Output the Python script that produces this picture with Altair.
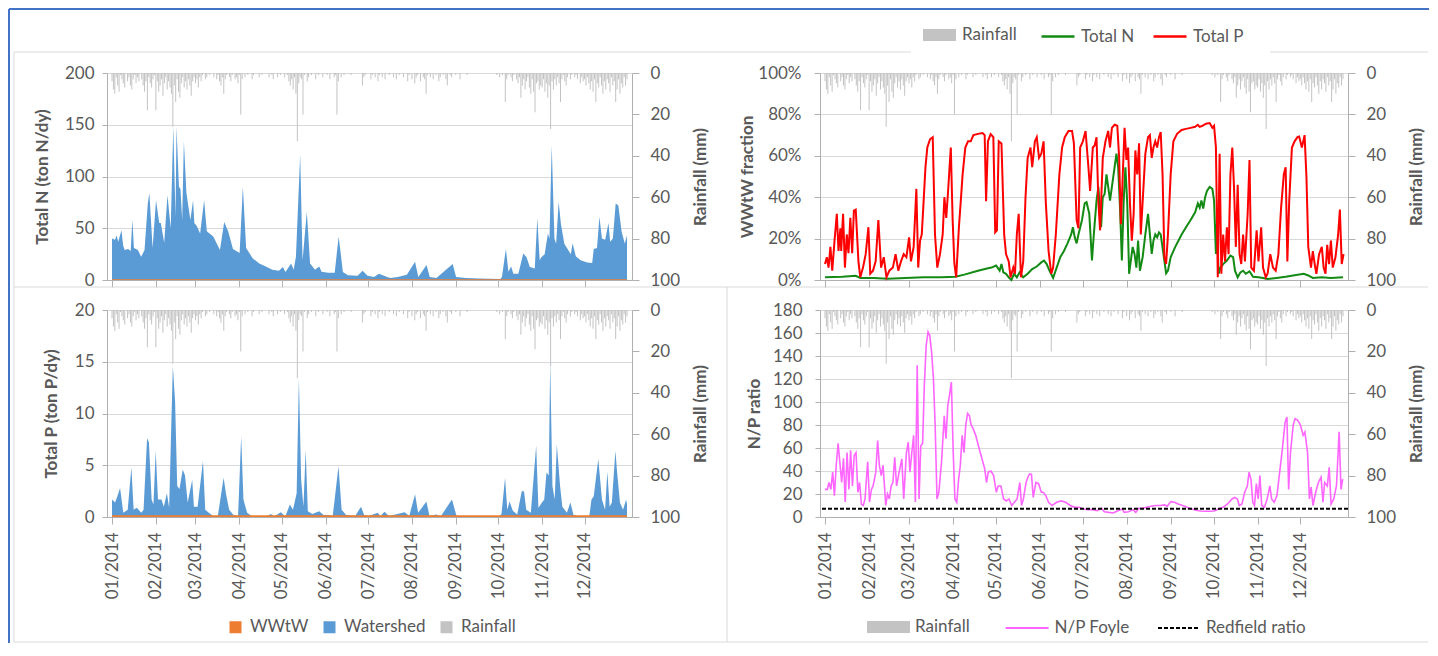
import altair as alt
import pandas as pd

# ---------------- data ----------------
rain_jan = [4, 8, 10, 2, 6, 9, 1, 3, 5, 7, 0, 4, 2, 6, 8, 3, 1, 5, 2, 4, 0, 3, 6, 9, 4, 18, 2, 5, 7, 3, 1]
rain_feb = [18, 4, 9, 6, 3, 11, 5, 2, 8, 4, 7, 10, 26, 6, 14, 3, 9, 12, 5, 2, 7, 4, 8, 3, 6, 11, 4, 2]
rain_mar = [5, 3, 7, 2, 4, 1, 0, 3, 2, 0, 1, 0, 0, 2, 0, 3, 1, 4, 6, 2, 10, 3, 1, 0, 2, 4, 1, 0, 3, 2, 5]
rain_apr = [1, 20, 3, 0, 2, 0, 1, 0, 0, 3, 1, 0, 0, 0, 2, 0, 1, 0, 0, 0, 0, 2, 0, 1, 3, 0, 0, 2, 0, 1]
rain_may = [0, 0, 2, 0, 1, 4, 6, 3, 8, 2, 10, 33, 5, 2, 3, 20, 1, 0, 4, 2, 0, 1, 0, 0, 3, 0, 1, 0, 0, 2, 0]
rain_jun = [0, 1, 0, 3, 0, 0, 2, 1, 20, 4, 0, 2, 0, 1, 0, 0, 0, 0, 1, 0, 0, 0, 0, 0, 0, 0, 6, 2, 1, 0]
rain_jul = [0, 0, 3, 1, 0, 2, 0, 4, 1, 0, 2, 0, 3, 0, 0, 1, 0, 0, 2, 0, 3, 0, 1, 0, 0, 2, 0, 0, 4, 1, 0]
rain_aug = [3, 0, 5, 2, 1, 0, 4, 0, 2, 3, 10, 1, 0, 2, 0, 3, 0, 1, 0, 4, 2, 0, 1, 0, 3, 6, 0, 1, 2, 0, 0]
rain_sep = [1, 0, 0, 3, 0, 0, 0, 0, 1, 0, 0, 0, 0, 0, 0, 0, 0, 0, 0, 0, 0, 0, 0, 0, 0, 0, 0, 0, 0, 1]
rain_oct = [0, 2, 0, 1, 0, 14, 3, 1, 0, 2, 4, 1, 0, 3, 5, 2, 12, 6, 3, 8, 4, 2, 7, 10, 3, 9, 19, 5, 4, 8, 6]
rain_nov = [7, 3, 9, 5, 12, 6, 27, 4, 8, 3, 6, 2, 5, 14, 3, 1, 4, 6, 2, 0, 3, 1, 0, 2, 1, 3, 0, 5, 2, 4]
rain_dec = [3, 6, 2, 5, 8, 4, 9, 3, 14, 5, 7, 2, 6, 10, 4, 8, 3, 5, 9, 2, 6, 4, 14, 8, 3, 10, 5, 7, 2, 6, 3]

# Total N, watershed (ton N/dy): day of year (0 = 1 Jan) and value
tn_days = [0, 2.1, 3.3, 4.4, 6.7, 7.9, 9.0, 11.4, 13.2, 14.4, 15.5, 18.3, 20.6, 23.0, 25.3, 26.4, 28.7,
           31.1, 33.4, 34.5, 36.9, 39.2, 41.5, 43.3, 44.9, 45.6, 47.3, 48.4, 49.6, 50.8, 52.6, 55.4,
           57.3, 58.2, 60.0, 62.3, 65.1, 67.0, 71.6, 76.3, 79.3, 82.1, 85.5, 90.2, 92.5, 94.8, 99.4,
           104.1, 108.7, 113.3, 118.0, 120.8, 122.6, 126.6, 128.4, 130.0, 133.0, 134.7, 137.7, 140.0,
           143.5, 146.5, 148.1, 152.8, 157.4, 160.2, 163.2, 166.7, 173.6, 177.1, 180.6, 185.2, 188.7,
           194.5, 196.8, 202.0, 208.4, 214.2, 216.5, 222.3, 224.6, 229.3, 240.8, 243.2, 250.1, 259.4,
           274.5, 275.6, 278.4, 280.2, 282.1, 283.7, 287.2, 290.7, 293.0, 295.3, 298.8, 300.6, 302.3,
           303.4, 305.8, 308.1, 309.2, 310.8, 312.7, 313.9, 315.7, 317.3, 319.7, 322.0, 324.3, 325.5,
           327.8, 331.2, 335.9, 339.4, 340.5, 342.8, 344.5, 346.3, 348.6, 350.9, 352.1, 354.0, 356.0,
           357.9, 360.2, 362.5, 363.7, 364.0]
tn_ws = [40, 39, 43, 37, 48, 33, 29, 30, 28, 58, 31, 29, 22.5, 29, 74, 84, 31,
         77, 55, 55, 36, 82, 50, 148, 61, 148, 90, 88, 58, 134, 84, 58,
         77, 55, 52, 45, 77, 47, 42, 29, 56, 47, 30, 26, 90, 31, 21,
         16, 13, 10, 9, 12.5, 7.7, 16, 10, 22.5, 121, 19, 66, 16,
         10, 13, 8, 7, 7, 42, 7.7, 4.5, 4, 9, 4, 3, 6,
         3, 2, 3, 5, 17.7, 3, 14.5, 3, 2, 15.5, 3, 2, 1.5,
         1, 3, 30, 8, 13, 6, 6, 25.7, 22, 12.5, 11, 59.6, 19,
         22, 25, 45, 40, 130, 40, 35, 75.6, 54, 35, 30, 25, 35.4,
         23, 19, 17, 16.4, 30, 31, 61, 40, 39, 55, 37, 40, 74,
         72, 46.5, 35, 43, 38]
wwtw_n_days = [0, 364]
wwtw_n = [0.8, 0.8]

# Total P, watershed (ton P/dy)
tp_days = [0, 2.2, 3.8, 5.7, 8.0, 11.1, 13.7, 15.3, 17.5, 20.7, 22.3, 24.8, 26.1, 28.0, 29.3, 30.9,
           32.5, 35.0, 36.6, 38.8, 40.4, 43.0, 44.6, 46.1, 47.7, 50.0, 51.6, 53.5, 56.7, 57.9, 60.5,
           64.3, 65.9, 68.4, 71.6, 74.8, 78.9, 80.5, 82.8, 85.9, 89.1, 91.3, 92.9, 95.5, 98.7, 109.8,
           112.3, 114.6, 119.3, 122.5, 125.7, 127.9, 130.5, 132.1, 133.7, 135.3, 136.9, 138.4, 141.6,
           146.4, 149.6, 152.8, 156.0, 160.1, 162.3, 165.5, 171.9, 176.0, 178.2, 181.4, 187.8, 189.7,
           192.6, 195.7, 206.9, 210.1, 214.2, 216.4, 222.2, 224.4, 229.2, 232.3, 240.3, 243.5, 248.3,
           273.7, 275.3, 277.8, 279.4, 281.0, 283.3, 286.4, 289.6, 291.2, 292.8, 296.0, 299.8, 301.4,
           303.9, 305.5, 307.1, 308.7, 309.7, 311.3, 312.9, 314.4, 316.7, 318.3, 321.5, 324.0, 326.2,
           329.4, 337.4, 338.9, 340.5, 343.7, 346.3, 348.5, 350.1, 351.7, 353.3, 355.8, 357.1, 359.0,
           361.2, 363.4, 364.0]
tp_ws = [1.7, 1.4, 2.0, 2.8, 0.4, 0.7, 4.8, 0.7, 0.9, 0.4, 0.7, 7.6, 7.2, 1.7, 1.2, 6.4,
         1.7, 1.7, 1.0, 2.3, 0.9, 14.6, 11.1, 3.0, 2.7, 4.6, 4.0, 1.4, 3.6, 1.0, 1.0,
         5.4, 0.7, 0.4, 0.1, 0.1, 3.8, 2.3, 0.7, 0.2, 0.1, 7.8, 1.7, 0.4, 0.1, 0.1,
         0.3, 0.05, 0.45, 0.05, 1.2, 0.7, 2.3, 13.4, 3.6, 1.0, 6.5, 0.55, 0.3,
         0.55, 0.2, 0.2, 0.1, 4.9, 0.7, 0.2, 0.1, 1.0, 0.2, 0.1, 0.4, 0.1,
         0.5, 0.1, 0.45, 0.1, 2.2, 0.4, 1.5, 0.1, 0.25, 0.05, 1.7, 0.1, 0.05,
         0.05, 0.3, 3.8, 0.7, 1.5, 0.6, 0.25, 2.5, 2.5, 0.7, 0.4, 6.9, 0.9,
         1.4, 1.7, 4.3, 4.0, 15.0, 3.0, 1.7, 7.0, 3.0, 1.0, 0.4, 1.4, 0.2,
         0.05, 0.1, 1.7, 2.0, 5.6, 1.7, 0.7, 4.4, 1.0, 1.4, 6.4, 4.2, 1.4,
         0.7, 1.7, 1.2]
wwtw_p_days = [0, 364]
wwtw_p = [0.16, 0.16]

# WWtW fraction of Total P (%)
fp_days = [0, 1.3, 2.5, 3.8, 5.1, 6.7, 8.3, 9.5, 10.8, 11.4, 12.7, 14.0, 15.3, 16.5, 17.8, 19.1, 20.3,
           21.6, 23.5, 24.8, 26.7, 28.6, 30.5, 31.8, 33.7, 35.6, 37.5, 39.4, 41.3, 43.2, 45.2, 47.7,
           49.6, 51.5, 53.4, 55.3, 57.2, 59.1, 60.4, 62.3, 64.2, 65.5, 66.8, 68.0, 69.3, 70.6, 71.9,
           73.8, 75.7, 77.3, 78.9, 80.8, 82.7, 83.9, 85.2, 86.5, 88.4, 89.7, 90.9, 92.2, 94.1, 95.4,
           96.7, 98.6, 100.5, 102.4, 104.3, 107.5, 110.7, 112.2, 113.2, 114.5, 116.4, 118.3, 119.6,
           120.8, 122.1, 124.0, 125.9, 127.2, 129.1, 130.4, 132.3, 133.5, 134.8, 136.1, 137.7, 139.3,
           140.9, 142.4, 144.4, 145.6, 147.5, 148.8, 150.4, 152.0, 153.6, 155.2, 157.1, 159.0, 160.3,
           162.2, 164.7, 166.6, 168.5, 171.1, 173.6, 174.9, 176.8, 178.1, 179.3, 181.2, 183.1, 185.1,
           186.3, 188.2, 189.5, 190.8, 192.1, 193.3, 195.2, 197.1, 199.0, 200.3, 201.6, 203.5, 205.4,
           206.7, 207.9, 209.2, 210.5, 211.8, 213.0, 214.3, 215.6, 216.9, 218.1, 219.4, 220.7, 221.9,
           223.8, 225.1, 227.0, 228.3, 229.6, 230.8, 232.1, 233.4, 234.7, 235.9, 237.2, 238.5, 239.7,
           241.0, 242.9, 244.8, 247.4, 250.6, 253.7, 256.9, 260.1, 262.0, 263.3, 265.2, 267.7, 270.3,
           272.2, 273.4, 274.7, 276.0, 277.3, 278.5, 279.8, 281.1, 282.4, 283.6, 284.9, 286.2, 287.4,
           288.7, 290.0, 291.3, 292.5, 293.8, 295.1, 297.0, 298.3, 299.5, 301.4, 303.3, 304.6, 306.5,
           307.8, 309.7, 311.0, 312.9, 314.8, 316.7, 318.6, 320.5, 322.4, 323.7, 324.9, 326.2, 328.1,
           330.0, 332.0, 333.2, 335.1, 337.0, 338.3, 339.6, 341.5, 342.8, 344.1, 345.3, 347.2, 349.1,
           350.4, 351.7, 352.9, 354.2, 355.5, 356.8, 358.7, 360.6, 361.8, 363.1, 364.4]
fp_val = [7.7, 11, 6, 16, 4.5, 19, 32, 14, 25, 14, 32, 6, 22, 13, 30, 13, 33.5,
          34, 9, 1.3, 6, 12.5, 25.5, 3, 4.5, 9, 29, 6, 11, 1.3, 4.5, 6,
          12.5, 4.5, 9, 12.5, 11, 20.6, 9, 16, 44, 6, 19, 22, 38, 54.5, 64,
          68, 69, 22, 6, 12.5, 22, 40, 30, 43, 64, 29, 8, 1.3, 25.5, 38,
          51, 64, 67, 67, 70, 70.6, 71, 70, 38, 67, 70.5, 69, 23,
          24, 67, 66, 22, 12.5, 9, 1.3, 6, 3, 22, 32, 1.3, 9,
          40, 59, 64, 54.5, 67, 69, 59, 61, 67, 37, 14, 3, 6,
          22, 51, 64, 69, 72, 72, 66, 29, 25, 64, 67, 72, 54.5,
          43, 64, 65, 69, 38, 24, 59, 67, 72, 64, 73.5, 75, 74.5,
          59, 27, 50, 73.5, 58, 64, 37, 19, 32, 62.6, 51, 66, 22,
          45, 61, 69, 70, 59, 64, 67, 64, 69, 71.5, 51, 11, 7.7,
          22, 51, 67, 70.6, 72.5, 73, 73.5, 74, 75, 74, 74.5, 75.5, 75.8,
          73.5, 74.5, 64, 1.3, 61, 3, 22, 9, 25.5, 12.5, 51, 64, 45,
          16, 46, 12.5, 7.7, 22, 9, 32, 58, 6, 4.5, 24, 9, 25.5,
          6, 1.3, 3, 12.5, 6, 4.5, 12.5, 35, 51, 54.5, 9, 38, 64,
          67, 69, 69.3, 64, 70, 50, 16, 6, 14, 7.7, 3, 12.5, 16,
          6, 3, 17, 7.7, 19, 6, 11, 22, 34, 7.7, 12.5]

# WWtW fraction of Total N (%)
fn_days = [0, 12.1, 21.6, 24.8, 34.3, 43.9, 56.6, 69.3, 82.0, 91.6, 97.9, 107.5, 113.8, 117.0, 120.2,
           122.7, 124.0, 125.3, 127.2, 129.1, 131.0, 132.9, 134.8, 136.7, 139.3, 142.4, 145.6, 148.8,
           152.0, 153.9, 155.8, 157.7, 160.3, 162.8, 165.3, 167.9, 170.4, 173.0, 174.2, 175.5, 176.8,
           178.1, 180.6, 182.5, 183.8, 185.7, 187.6, 188.9, 190.8, 192.1, 194.0, 195.2, 196.5, 197.8,
           199.0, 200.3, 201.6, 203.5, 204.8, 206.0, 207.3, 208.6, 209.9, 211.1, 212.4, 213.7, 214.9,
           216.2, 217.5, 218.8, 220.0, 221.3, 223.2, 225.1, 227.0, 228.3, 229.6, 230.8, 232.1, 233.4,
           234.7, 235.9, 237.8, 239.7, 241.0, 242.9, 246.1, 250.6, 253.7, 256.9, 260.1, 262.0, 263.3,
           264.5, 265.8, 267.1, 268.4, 270.3, 272.2, 273.4, 274.7, 275.4, 276.6, 277.9, 279.8, 282.4,
           284.9, 286.8, 288.1, 290.0, 291.9, 293.8, 295.7, 298.3, 300.8, 304.6, 307.8, 311.0, 317.3,
           323.7, 330.0, 336.4, 339.6, 342.8, 349.1, 355.5, 364.0]
fn_val = [1.3, 1.6, 2, 1, 1, 0.6, 1, 1.3, 1.3, 1.6, 2.6, 4.5, 5.6, 6, 7,
          4.5, 7.7, 3.7, 3, 1.3, 0, 3, 1.3, 3.7, 1.3, 3, 5.3, 6.5,
          8.5, 9.4, 7.7, 4.5, 1, 6, 11, 14, 17.7, 22, 25.5, 20.6, 17.7,
          22, 29, 37, 37.6, 32, 9.4, 22, 38.4, 45, 25.5, 40, 41.6, 51,
          45, 38.4, 45, 54.5, 61, 54.5, 35, 9.4, 38.4, 54.5, 37, 3, 9.4,
          16, 12.6, 6, 19, 4.5, 11, 22, 32, 22, 12.6, 19, 22, 20.6,
          23, 22, 12.6, 3.2, 4.5, 11, 16, 22, 25.5, 29, 32.7, 37, 35,
          38.4, 34.5, 40, 43, 45, 44, 38.4, 12.6, 27, 3, 6, 7.7, 9.4,
          11.8, 11, 4.5, 1.3, 3.7, 4.5, 3, 4.2, 1.6, 1.3, 1, 0.5, 1,
          1.6, 2.3, 3, 2.2, 1, 1.3, 1, 1.3]

# N/P ratio, Foyle
np_days = [0, 1.6, 2.8, 4.1, 5.4, 6.6, 7.9, 9.2, 10.4, 11.7, 13.0, 14.2, 15.5, 16.8, 18.0, 19.3, 20.5,
           21.8, 23.1, 24.3, 25.6, 26.9, 28.1, 30.0, 31.3, 32.6, 33.8, 35.7, 37.0, 38.2, 39.5, 40.8,
           42.7, 43.9, 45.2, 46.5, 47.7, 49.0, 50.3, 52.1, 54.0, 55.3, 57.2, 58.5, 59.7, 61.0, 62.3,
           63.5, 64.8, 66.1, 67.3, 68.6, 69.8, 71.1, 72.4, 73.6, 74.9, 76.2, 77.4, 78.7, 80.0, 81.9,
           83.8, 85.0, 86.3, 87.5, 88.8, 90.1, 91.3, 92.6, 93.9, 95.1, 96.4, 97.7, 98.9, 100.2, 101.5,
           102.7, 104.0, 105.9, 107.8, 109.7, 112.2, 113.5, 114.7, 116.6, 118.5, 120.4, 121.7, 123.6,
           125.5, 127.4, 129.3, 131.2, 133.1, 135.0, 136.9, 138.1, 139.4, 141.3, 142.5, 143.8, 145.1,
           146.3, 148.2, 150.1, 152.0, 153.3, 155.2, 157.1, 159.6, 162.8, 165.9, 169.1, 172.3, 175.4,
           178.6, 181.7, 184.9, 188.1, 191.2, 194.4, 196.3, 199.4, 202.6, 205.8, 208.9, 210.2, 213.3,
           216.5, 218.4, 220.3, 222.8, 226.0, 229.1, 232.3, 235.5, 238.6, 240.5, 243.0, 245.6, 248.1,
           251.3, 254.4, 257.6, 260.7, 263.9, 267.1, 270.2, 273.4, 276.6, 279.7, 282.9, 286.0, 287.9,
           289.8, 291.1, 293.0, 294.9, 296.8, 298.0, 299.3, 300.6, 301.8, 303.1, 304.4, 305.6, 306.9,
           308.8, 310.7, 312.6, 313.8, 315.7, 317.6, 319.5, 321.4, 323.3, 324.6, 325.8, 327.1, 329.0,
           330.3, 332.2, 334.1, 336.0, 337.2, 339.1, 340.4, 341.6, 342.9, 344.8, 346.7, 348.6, 349.9,
           351.1, 353.0, 354.3, 355.6, 357.5, 359.4, 361.3, 362.6, 363.8]
np_val = [24, 24, 30, 24, 39, 18.6, 45, 64, 48, 30, 51, 13, 56, 24, 58, 27, 53.5,
          56, 21.5, 30, 11, 10, 15.7, 48, 13, 24, 27, 39, 66.5, 45, 36, 45,
          10, 20, 15.7, 27, 30, 52, 27, 39, 50.6, 15.7, 56, 65, 39, 56, 71,
          13, 132, 15.7, 62, 64, 114.5, 149, 161, 158, 143.6, 120, 80, 15.7, 21.5, 48,
          88, 68, 97, 106, 117.4, 56, 15.7, 12.8, 33, 45, 71, 56, 80, 90, 88,
          80, 77, 71, 62, 53.5, 42, 30, 39, 40, 36, 21.5, 27, 27,
          15.7, 14, 15.7, 10, 12.8, 15.7, 30, 10, 15.7, 30, 34.6, 37.5, 37,
          17, 30, 29, 21.5, 21.5, 18.6, 12.8, 10, 12.8, 14, 12.8, 10, 8.4,
          8.4, 7, 6.4, 6.4, 5.5, 7.5, 4.6, 4, 3.5, 5.5, 7, 4, 4.6,
          6.4, 4, 7.5, 7.5, 8.4, 9.3, 10, 10, 10.5, 9.3, 13.4, 12.8, 11.3,
          10, 8.4, 7, 5.8, 5.2, 5, 5, 5.2, 7, 8.4, 11.3, 15.7, 17,
          15.7, 10, 11.3, 21.5, 27, 39, 33, 12.8, 10, 29, 15.7, 36, 10,
          8.4, 15.7, 27, 15.7, 12.8, 18.6, 39, 59, 82.5, 87, 24, 56, 80,
          85.5, 84, 80, 71, 74, 56, 15.7, 26, 10, 21.5, 30, 34.6, 12.8,
          30, 27, 43.3, 11.3, 15.7, 27, 74, 24, 33]
redfield = [7.2]

month_starts = [1, 2, 3, 4, 5, 6, 7, 8, 9, 10, 11, 12]

# ---------------- helpers ----------------
BASE = pd.Timestamp("2014-01-01")


def iso(d):
    return (BASE + pd.Timedelta(days=float(d))).strftime("%Y-%m-%dT%H:%M:%S")


def series(days, vals, name=None):
    df = pd.DataFrame({"date": [iso(d) for d in days], "v": vals})
    if name is not None:
        df["kind"] = name
    return df


rain = (rain_jan + rain_feb + rain_mar + rain_apr + rain_may + rain_jun +
        rain_jul + rain_aug + rain_sep + rain_oct + rain_nov + rain_dec)
rain_df = pd.DataFrame({"date": [iso(i) for i in range(len(rain))], "rain": rain, "kind": "Rainfall"})

BLUE = "#5b9bd5"
ORANGE = "#ed7d31"
RAINC = "#c3c3c3"
GREEN = "#138a13"
RED = "#ff0000"
MAGENTA = "#ff66ff"
AXC = "#b0b0b0"
TXT = "#595959"
FONT = "Lato"

XDOM = [alt.DateTime(year=2014, month=1, date=1), alt.DateTime(year=2014, month=12, date=31)]
MONTHS = [alt.DateTime(year=2014, month=m, date=1) for m in month_starts]
H = 207


def xenc(labels):
    return alt.X("date:T", scale=alt.Scale(domain=XDOM), title=None,
                 axis=alt.Axis(values=MONTHS, format="%m/%Y", labels=labels, labelAngle=270,
                               labelAlign="right", labelBaseline="middle", labelPadding=8,
                               tickSize=7, grid=False, labelFlush=False, labelOverlap=False,
                               domainColor=AXC, tickColor=AXC))


def rain_y():
    return alt.Y("rain:Q", scale=alt.Scale(domain=[0, 100], reverse=True, nice=False),
                 title="Rainfall (mm)",
                 axis=alt.Axis(orient="right", values=[0, 20, 40, 60, 80, 100], grid=False,
                               tickSize=7, labelPadding=11, titleAngle=270, titleBaseline="middle",
                               titleX=68, titleY=H / 2, labelFlush=False, domainColor=AXC, tickColor=AXC))


def left_y(domain, values, title, title_x, fmt=None, tick=5, pad=8):
    ax = dict(orient="left", values=values, grid=True, gridColor="#d9d9d9", tickSize=tick,
              labelPadding=pad, titleAngle=270, titleBaseline="middle", titleX=title_x,
              titleY=H / 2, labelFlush=False, domainColor=AXC, tickColor=AXC)
    if fmt:
        ax["format"] = fmt
    return alt.Y("v:Q", scale=alt.Scale(domain=domain, nice=False), title=title, axis=alt.Axis(**ax))


def rain_layer(labels, fill):
    return alt.Chart(rain_df).mark_bar(width=1).encode(x=xenc(labels), y=rain_y(), fill=fill)


one = pd.DataFrame({"a": [0]})


def hrule(y, x1, x2, color, w):
    return alt.Chart(one).mark_rule(color=color, strokeWidth=w).encode(
        x=alt.value(x1), x2=alt.value(x2), y=alt.value(y))


def vrule(x, y1, y2, color, w):
    return alt.Chart(one).mark_rule(color=color, strokeWidth=w).encode(
        x=alt.value(x), y=alt.value(y1), y2=alt.value(y2))


# decorations (panel frames), relative to the top-left plot origin (107, 73)
FR = "#dadada"
decor = [
    hrule(-21, -93, 804, FR, 1), hrule(-21, 1163, 1321, FR, 1),
    hrule(214, -93, 1321, FR, 1), hrule(569, -93, 1321, FR, 1),
    vrule(-93, -21, 569, FR, 1), vrule(620, 214, 569, FR, 1),
    vrule(-98, -64, 570, "#4472c4", 2), hrule(-64, -98, 1322, "#4472c4", 2),
]

# ---------------- top-left: Total N ----------------
tl_y = left_y([0, 200], [0, 50, 100, 150, 200], "Total N (ton N/dy)", -65)
tl_series = alt.layer(
    alt.Chart(series(tn_days, tn_ws)).mark_area(color=BLUE, interpolate="linear").encode(x=xenc(False), y=tl_y),
    alt.Chart(series(wwtw_n_days, wwtw_n)).mark_area(color=ORANGE).encode(x=xenc(False), y=tl_y),
    *decor,
)
tl = alt.layer(rain_layer(False, alt.value(RAINC)), tl_series).resolve_scale(y="independent").properties(
    width=525, height=H)

# ---------------- top-right: WWtW fraction ----------------
frac_df = pd.concat([
    pd.DataFrame({"date": [iso(d) for d in fn_days], "v": [x / 100 for x in fn_val], "kind": "Total N"}),
    pd.DataFrame({"date": [iso(d) for d in fp_days], "v": [x / 100 for x in fp_val], "kind": "Total P"}),
])
tr_fill = alt.Fill("kind:N", scale=alt.Scale(domain=["Rainfall"], range=[RAINC]),
                   legend=alt.Legend(title=None, orient="none", legendX=107.5, legendY=-50, padding=0,
                                     symbolType="M-1.375,-0.5H1.375V0.5H-1.375Z", symbolSize=576,
                                     symbolStrokeWidth=0, labelOffset=10.5))
tr_stroke = alt.Stroke("kind:N", scale=alt.Scale(domain=["Total N", "Total P"], range=[GREEN, RED]),
                       legend=alt.Legend(title=None, orient="none", legendX=220, legendY=-54.5, padding=0,
                                         direction="horizontal", symbolType="stroke", symbolSize=1089,
                                         symbolStrokeWidth=2.5, labelOffset=5, columnPadding=13))
tr_y = left_y([0, 1], [0, 0.2, 0.4, 0.6, 0.8, 1.0], "WWtW fraction", -73, fmt=".0%", tick=6, pad=13)
tr_lines = alt.Chart(frac_df).mark_line(strokeWidth=2).encode(x=xenc(False), y=tr_y, stroke=tr_stroke,
                                                              detail="kind:N")
tr = alt.layer(rain_layer(False, tr_fill), tr_lines).resolve_scale(y="independent").properties(
    width=528, height=H)

# ---------------- bottom-left: Total P ----------------
bl_fill_scale = alt.Scale(domain=["WWtW", "Watershed", "Rainfall"], range=[ORANGE, BLUE, RAINC])
bl_legend = alt.Legend(title=None, orient="none", legendX=120, legendY=308.5, padding=0,
                       direction="horizontal", symbolType="square", symbolSize=144,
                       symbolStrokeWidth=0, labelOffset=6, columnPadding=12)
bl_y = left_y([0, 20], [0, 5, 10, 15, 20], "Total P (ton P/dy)", -56)
bl_series = alt.layer(
    alt.Chart(series(tp_days, tp_ws, "Watershed")).mark_area(interpolate="linear").encode(
        x=xenc(True), y=bl_y, fill=alt.Fill("kind:N", scale=bl_fill_scale, legend=bl_legend)),
    alt.Chart(series(wwtw_p_days, wwtw_p, "WWtW")).mark_area().encode(
        x=xenc(True), y=bl_y, fill=alt.Fill("kind:N", scale=bl_fill_scale, legend=bl_legend)),
)
bl = alt.layer(rain_layer(True, alt.Fill("kind:N", scale=bl_fill_scale, legend=bl_legend)),
               bl_series).resolve_scale(y="independent").properties(width=525, height=H)

# ---------------- bottom-right: N/P ratio ----------------
br_fill = alt.Fill("kind:N", scale=alt.Scale(domain=["Rainfall"], range=[RAINC]),
                   legend=alt.Legend(title=None, orient="none", legendX=56.5, legendY=305, padding=0,
                                     symbolType="M-1.79,-0.5H1.79V0.5H-1.79Z", symbolSize=576,
                                     symbolStrokeWidth=0, labelOffset=14.5))
br_stroke = alt.Stroke("kind:N", scale=alt.Scale(domain=["N/P Foyle"], range=[MAGENTA]),
                       legend=alt.Legend(title=None, orient="none", legendX=184.6, legendY=295.5, padding=0,
                                         symbolType="stroke", symbolSize=1849, symbolStrokeWidth=2,
                                         labelOffset=5))
br_dash = alt.StrokeDash("kind2:N", scale=alt.Scale(domain=["Redfield ratio"], range=[[4, 2]]),
                         legend=alt.Legend(title=None, orient="none", legendX=337, legendY=296, padding=0,
                                           symbolType="stroke", symbolSize=1764, symbolStrokeWidth=2,
                                           symbolStrokeColor="black", labelOffset=5))
br_y = left_y([0, 180], list(range(0, 181, 20)), "N/P ratio", -66, tick=5, pad=13)
np_df = series(np_days, np_val, "N/P Foyle")
red_df = pd.DataFrame({"v": redfield, "kind2": ["Redfield ratio"]})
br_series = alt.layer(
    alt.Chart(np_df).mark_line(strokeWidth=1.6).encode(x=xenc(True), y=br_y, stroke=br_stroke),
    alt.Chart(red_df).mark_rule(color="black", strokeWidth=2).encode(y=br_y, strokeDash=br_dash),
)
br = alt.layer(rain_layer(True, br_fill), br_series).resolve_scale(y="independent").properties(
    width=528, height=H)

RES = dict(x="independent", y="independent", fill="independent", stroke="independent",
           strokeDash="independent")
chart = alt.concat(
    tl, tr, bl, br, columns=2, spacing=alt.RowColnumber(row=30, column=188), bounds="flush"
).resolve_scale(**RES).resolve_legend(
    fill="independent", stroke="independent", strokeDash="independent"
).properties(padding=0, background="white").configure_view(stroke=None).configure_axis(
    labelFont=FONT, labelFontSize=17, labelColor=TXT, titleFont=FONT, titleFontSize=17,
    titleFontWeight="bold", titleColor=TXT
).configure_legend(labelFont=FONT, labelFontSize=17, labelColor=TXT)

chart.save("out.html", embed_options={"renderer": "svg", "actions": False})
